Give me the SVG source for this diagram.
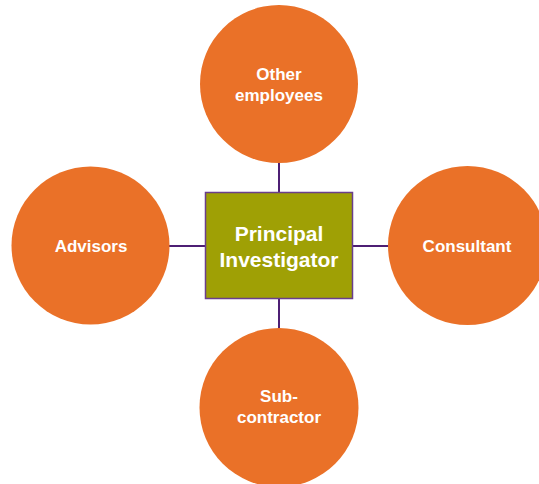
<svg xmlns="http://www.w3.org/2000/svg" width="539" height="484" viewBox="0 0 539 484">
<style>
.c{fill:#EA7128;}
.t{font-family:"Liberation Sans",Arial,sans-serif;font-weight:bold;fill:#FFFFFF;text-anchor:middle;}
.s{font-size:17px;}
.b{font-size:21px;}
.l{stroke:#4E1F74;stroke-width:2;fill:none;}
</style>
<rect width="539" height="484" fill="#FFFFFF"/>
<g id="connectors">
<line class="l" x1="279" y1="162" x2="279" y2="193"/>
<line class="l" x1="279" y1="298" x2="279" y2="330"/>
<line class="l" x1="168" y1="246" x2="206" y2="246"/>
<line class="l" x1="352" y1="246" x2="390" y2="246"/>
</g>
<g id="other-employees">
<circle class="c" cx="279" cy="84" r="79"/>
<text class="t s" x="279" y="80">Other</text>
<text class="t s" x="279" y="101">employees</text>
</g>
<g id="advisors">
<circle class="c" cx="90.5" cy="245.5" r="79"/>
<text class="t s" x="91" y="252">Advisors</text>
</g>
<g id="consultant">
<circle class="c" cx="467.5" cy="245.5" r="79.5"/>
<text class="t s" x="467" y="252">Consultant</text>
</g>
<g id="subcontractor">
<circle class="c" cx="279" cy="407.5" r="79.5"/>
<text class="t s" x="279" y="402">Sub-</text>
<text class="t s" x="279" y="423">contractor</text>
</g>
<g id="principal-investigator">
<rect x="205.5" y="192.5" width="147" height="106" fill="#9FA005" stroke="#6A3E8C" stroke-width="1.5"/>
<text class="t b" x="279" y="241">Principal</text>
<text class="t b" x="279" y="267">Investigator</text>
</g>
</svg>
